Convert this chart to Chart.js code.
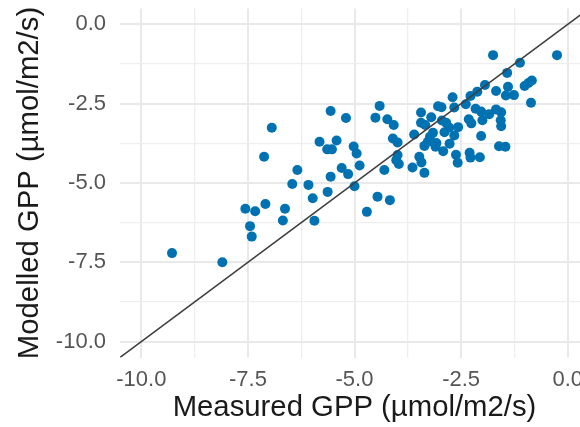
<!DOCTYPE html>
<html>
<head>
<meta charset="utf-8">
<script src="https://cdn.jsdelivr.net/npm/chart.js@4/dist/chart.umd.min.js"></script>
<style>
  html, body { margin: 0; padding: 0; background: #ffffff; overflow: hidden; width: 580px; height: 427px; }
  #wrap { position: absolute; left: 0; top: 0; width: 600px; height: 427px; }
</style>
</head>
<body>
<div id="wrap"><canvas id="gpp" width="600" height="427"></canvas></div>
<script>
// Measured vs modelled gross primary production (µmol/m2/s)
const measured = [
  -9.28, -8.10, -7.56, -7.33, -7.45, -7.41, -7.09, -6.94, -7.12, -6.63,
  -6.68, -6.46, -6.34, -6.08, -5.98, -5.94, -5.82, -5.64, -5.53, -5.42,
  -5.56, -5.20, -5.56, -5.63, -5.30, -5.15, -4.88, -5.02, -4.95, -5.00,
  -4.46, -4.17, -4.71, -4.41, -4.51, -4.23, -4.08, -4.10, -3.99, -3.99,
  -4.02, -3.96, -4.30, -3.44, -3.20, -3.44, -3.34, -3.04, -2.96, -2.70,
  -2.66, -2.39, -2.28, -2.16, -2.32, -2.26, -2.95, -2.85, -2.78, -2.57,
  -2.89, -2.66, -3.60, -3.16, -3.23, -3.28, -3.08, -3.36, -3.10, -2.77,
  -2.92, -2.62, -2.58, -2.30, -2.28, -2.06, -3.48, -3.43, -3.64, -3.36,
  -2.03, -2.00, -1.75, -0.25, -1.12, -1.42, -1.94, -2.12, -1.68, -1.40,
  -1.45, -1.26, -1.01, -0.92, -0.84, -0.86, -1.84, -1.68, -1.56, -2.03,
  -1.57, -1.56, -1.61, -1.46
];
const modelled = [
  -7.21, -7.50, -5.81, -5.89, -6.36, -6.69, -5.66, -3.26, -4.17, -5.81,
  -6.18, -5.03, -4.59, -5.06, -5.48, -6.19, -3.70, -3.94, -3.94, -3.66,
  -2.73, -2.95, -4.80, -5.28, -4.53, -4.72, -4.45, -3.85, -4.07, -5.10,
  -5.43, -5.54, -5.91, -2.57, -2.94, -2.99, -3.17, -3.60, -3.72, -4.12,
  -4.28, -4.40, -4.59, -2.78, -2.93, -3.10, -3.17, -2.58, -2.61, -2.30,
  -2.62, -2.52, -2.26, -2.66, -2.99, -3.12, -3.03, -3.10, -3.25, -3.24,
  -3.40, -3.50, -3.47, -3.42, -3.54, -3.70, -3.74, -3.83, -3.86, -3.76,
  -4.00, -4.11, -4.36, -4.05, -4.20, -4.19, -4.17, -4.35, -4.51, -4.68,
  -3.52, -3.02, -0.97, -0.97, -1.21, -1.53, -1.91, -2.12, -2.10, -1.97,
  -2.24, -2.23, -1.94, -1.85, -1.77, -2.47, -2.83, -2.68, -2.77, -2.75,
  -3.02, -3.21, -3.84, -3.86
];

// Axis breaks shared by both axes
const majorTicks = [-10, -7.5, -5, -2.5, 0];
const minorTicks = [-8.75, -6.25, -3.75, -1.25];
const axisLimits = [-10.5, 0.5];
const oneToOne = [-10.5, 0.5];

const points = measured.map((m, i) => ({ x: m, y: modelled[i] }));
const identity = oneToOne.map(v => ({ x: v, y: v }));

const isMajor = v => majorTicks.some(t => Math.abs(t - v) < 1e-9);

function breaks(scale) {
  scale.ticks = majorTicks.concat(minorTicks).sort((a, b) => a - b).map(v => ({ value: v }));
}

const gridOpts = {
  drawTicks: false,
  drawOnChartArea: true,
  color: ctx => isMajor(ctx.tick.value) ? '#e9e9e9' : '#eeeeee',
  lineWidth: ctx => isMajor(ctx.tick.value) ? 2 : 1.3
};

const tickFont = { family: 'Liberation Sans, Arial, sans-serif', size: 22 };
const titleFont = { family: 'Liberation Sans, Arial, sans-serif', size: 29.3 };
const fmt = v => isMajor(v) ? Number(v).toFixed(1) : '';

new Chart(document.getElementById('gpp'), {
  data: {
    datasets: [
      {
        type: 'line',
        data: identity,
        borderColor: '#3f3f3f',
        borderWidth: 1.5,
        pointRadius: 0,
        fill: false,
        order: 0
      },
      {
        type: 'scatter',
        data: points,
        backgroundColor: '#0072B2',
        borderWidth: 0,
        pointRadius: 5,
        order: 1
      }
    ]
  },
  options: {
    responsive: false,
    animation: false,
    events: [],
    layout: { padding: { left: 0, top: 8.5, right: 11, bottom: 0 } },
    plugins: { legend: { display: false }, tooltip: { enabled: false } },
    scales: {
      x: {
        type: 'linear',
        position: 'bottom',
        min: axisLimits[0],
        max: axisLimits[1],
        afterBuildTicks: breaks,
        afterFit: s => { s.height = 69.5; s.paddingLeft = 0; s.paddingRight = 0; },
        border: { display: false },
        grid: gridOpts,
        ticks: { font: tickFont, color: '#555555', padding: 9.5, maxRotation: 0, autoSkip: false, callback: fmt },
        title: { display: true, text: 'Measured GPP (µmol/m2/s)', font: titleFont, color: '#1a1a1a', padding: { top: 0, bottom: 1.5 } }
      },
      y: {
        type: 'linear',
        position: 'left',
        min: axisLimits[0],
        max: axisLimits[1],
        afterBuildTicks: breaks,
        afterFit: s => { s.width = 120; s.paddingTop = 0; s.paddingBottom = 0; },
        border: { display: false },
        grid: gridOpts,
        ticks: { font: tickFont, color: '#555555', padding: 14, autoSkip: false, callback: fmt },
        title: { display: true, text: 'Modelled GPP (µmol/m2/s)', font: titleFont, color: '#1a1a1a', padding: { top: 12, bottom: 0 } }
      }
    }
  }
});
</script>
</body>
</html>
